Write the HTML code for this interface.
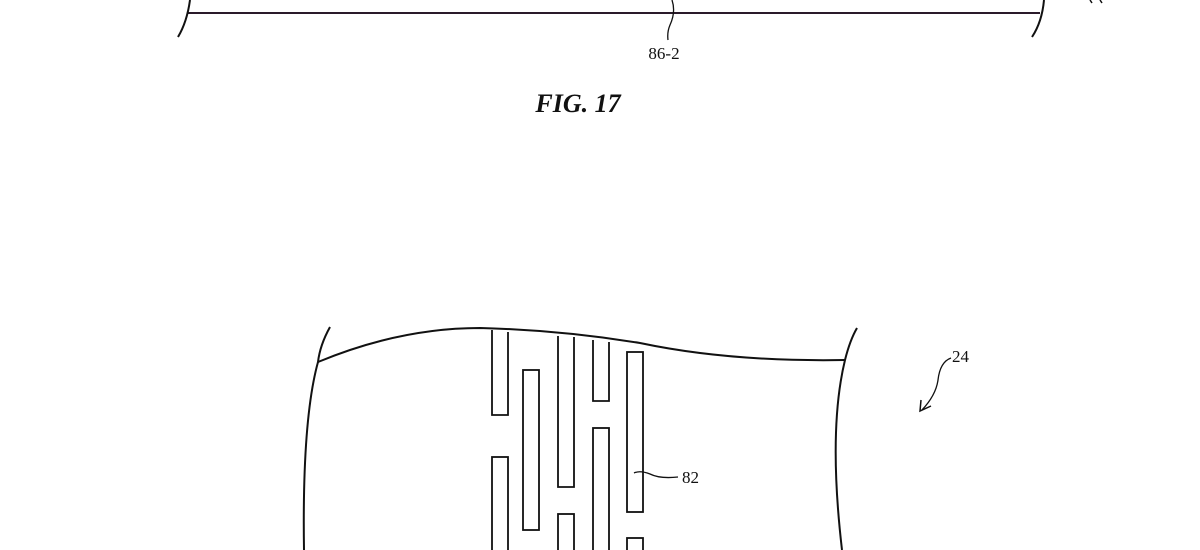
<!DOCTYPE html>
<html><head><style>
html,body{margin:0;padding:0;background:#fff;width:1200px;height:550px;overflow:hidden}
svg{display:block}
</style></head><body>
<svg width="1200" height="550" viewBox="0 0 1200 550" xmlns="http://www.w3.org/2000/svg">
<g fill="none" stroke="#111" stroke-width="2">
<line x1="187" y1="13" x2="1040" y2="13" stroke="#2a1a2a"/>
<path d="M190 0 Q187 22 178 37"/>
<path d="M1044 0 Q1042 22 1032 37"/>
<path d="M672 0 Q676 12 670 25 Q667 32 668 40" stroke-width="1.3"/>
<path d="M1090 0 L1092 3 M1100 0 L1102 3" stroke-width="1.5"/>
<!-- lower figure -->
<path d="M330 327 Q320 345 318 362 Q302 420 304 550"/>
<path d="M318 362 Q400 328 480 328 Q560 330 640 343 Q730 362 845 360"/>
<path d="M857 328 Q850 340 845 360 Q828 430 842 550"/>
<g stroke-width="1.8">
<path d="M492 330 V415 H508 V332"/>
<rect x="492" y="457" width="16" height="100"/>
<rect x="523" y="370" width="16" height="160"/>
<path d="M558 336 V487 H574 V337"/>
<rect x="558" y="514" width="16" height="50"/>
<path d="M593 340 V401 H609 V342"/>
<rect x="593" y="428" width="16" height="130"/>
<rect x="627" y="352" width="16" height="160"/>
<rect x="627" y="538" width="16" height="30"/>
</g>
<path d="M634 473 Q640 470 650 474 Q660 479 678 477" stroke-width="1.3"/>
<path d="M951 358 Q940 362 938 380 Q936 395 922 410" stroke-width="1.3"/>
<path d="M921 400 L920 411 L931 406" stroke-width="1.5"/>
</g>
<g font-family="Liberation Serif, serif" fill="#111">
<text x="664" y="59" font-size="17" text-anchor="middle">86-2</text>
<text x="578" y="112" font-size="26" font-weight="bold" font-style="italic" text-anchor="middle">FIG. 17</text>
<text x="682" y="483" font-size="17">82</text>
<text x="952" y="362" font-size="17">24</text>
</g>
</svg>
</body></html>
